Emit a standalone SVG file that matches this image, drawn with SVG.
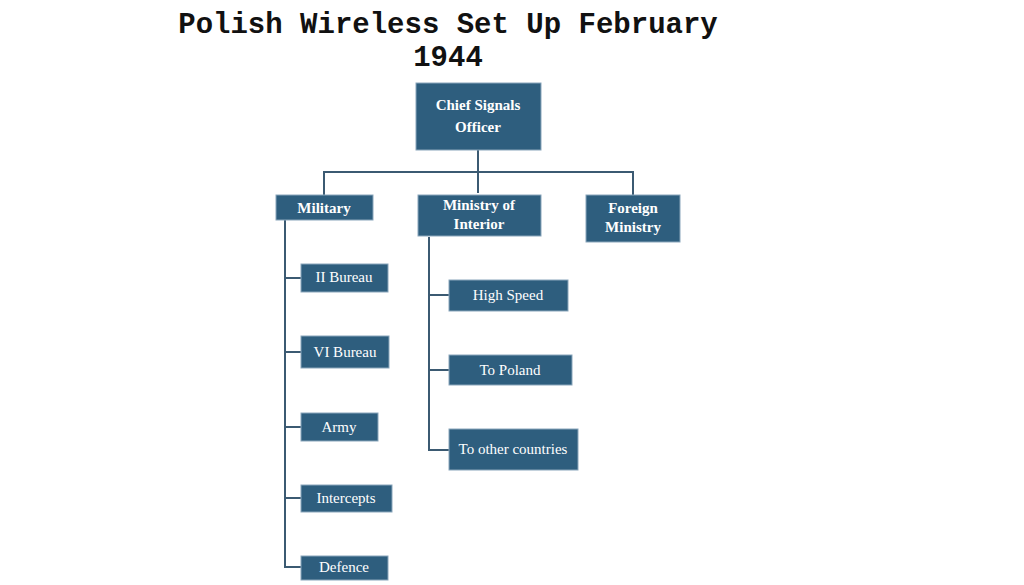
<svg xmlns="http://www.w3.org/2000/svg" width="1024" height="585" viewBox="0 0 1024 585">
<style>
.b{fill:#2e5e7e;stroke:#8aa6bb;stroke-width:1}
.t{fill:#fff;font-family:"Liberation Serif",serif;font-weight:bold;font-size:15px;text-anchor:middle}
.n{font-weight:normal}
.c{fill:none;stroke:#3b5a72;stroke-width:2}
.h{font-family:"Liberation Mono",monospace;font-weight:bold;font-size:29px;fill:#111;text-anchor:middle}
</style>
<rect width="1024" height="585" fill="#fff"/>
<text class="h" x="448" y="33">Polish Wireless Set Up February</text>
<text class="h" x="448" y="66">1944</text>
<g id="connectors" class="c">
<path d="M478 150V193M324 195V172H633V195"/>
<path d="M285 220V567H301M285 278H301M285 352H301M285 427H301M285 498H301"/>
<path d="M429 237V450H449M429 295H449M429 370H449"/>
</g>
<g id="chief"><rect class="b" x="416" y="83" width="125" height="67"/><text class="t" x="478" y="110" font-size="16">Chief Signals</text><text class="t" x="478" y="132" font-size="16">Officer</text></g>
<g id="military"><rect class="b" x="276" y="195" width="97" height="25"/><text class="t" x="324" y="213">Military</text></g>
<g id="interior"><rect class="b" x="418" y="195" width="123" height="41"/><text class="t" x="479" y="210" font-size="14">Ministry of</text><text class="t" x="479" y="229" font-size="14">Interior</text></g>
<g id="foreign"><rect class="b" x="586" y="195" width="94" height="47"/><text class="t" x="633" y="213" font-size="14">Foreign</text><text class="t" x="633" y="232" font-size="14">Ministry</text></g>
<g id="ii"><rect class="b" x="301" y="264" width="87" height="28"/><text class="t n" x="344" y="282">II Bureau</text></g>
<g id="vi"><rect class="b" x="301" y="336" width="88" height="32"/><text class="t n" x="345" y="357">VI Bureau</text></g>
<g id="army"><rect class="b" x="301" y="413" width="77" height="28"/><text class="t n" x="339" y="432">Army</text></g>
<g id="intercepts"><rect class="b" x="301" y="485" width="91" height="27"/><text class="t n" x="346" y="503">Intercepts</text></g>
<g id="defence"><rect class="b" x="301" y="556" width="87" height="24"/><text class="t n" x="344" y="572">Defence</text></g>
<g id="highspeed"><rect class="b" x="449" y="280" width="119" height="31"/><text class="t n" x="508" y="300">High Speed</text></g>
<g id="topoland"><rect class="b" x="449" y="355" width="123" height="30"/><text class="t n" x="510" y="375">To Poland</text></g>
<g id="toother"><rect class="b" x="449" y="429" width="129" height="41"/><text class="t n" x="513" y="454">To other countries</text></g>
</svg>
